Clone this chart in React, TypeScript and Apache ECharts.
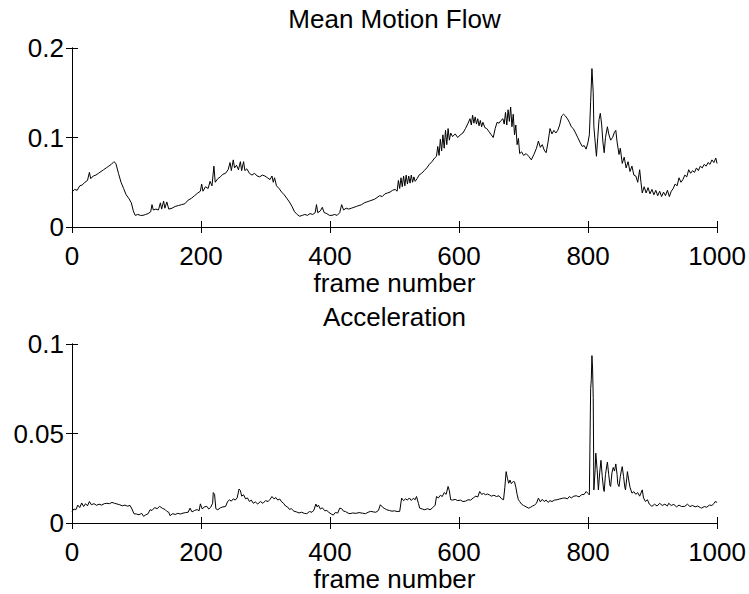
import React, { useEffect, useRef } from "react";
import * as echarts from "echarts";

const motionTitle = "Mean Motion Flow";
const accelTitle = "Acceleration";
const xName = "frame number";
const xTicks = [0, 200, 400, 600, 800, 1000];

const motionFrames = [
  0, 4, 8, 12, 16, 20, 24, 27, 29, 33, 37, 41, 45, 49, 53, 57, 61, 65, 68, 72, 76, 80, 84, 88, 92, 95, 98,
  102, 106, 110, 114, 118, 122, 124, 126, 130, 134, 137, 139, 142, 144, 147, 150, 155, 160, 165, 170, 175,
  180, 185, 190, 195, 199, 201, 203, 207, 211, 214, 217, 220, 222, 226, 230, 234, 238, 242, 245, 247, 250,
  252, 255, 258, 261, 263, 266, 268, 271, 275, 279, 283, 287, 291, 295, 299, 303, 307, 310, 312, 314, 317,
  321, 325, 329, 333, 337, 341, 345, 349, 353, 357, 361, 365, 369, 373, 377, 379, 381, 385, 388, 391, 395,
  399, 403, 407, 411, 415, 418, 421, 425, 429, 433, 437, 441, 445, 449, 453, 457, 461, 465, 469, 473, 477,
  481, 485, 489, 493, 497, 501, 504, 506, 508, 510, 512, 514, 516, 518, 520, 522, 524, 526, 528, 530, 532,
  535, 538, 542, 546, 550, 554, 558, 562, 565, 567, 569, 571, 573, 575, 577, 579, 581, 583, 585, 587, 590,
  594, 598, 602, 606, 610, 614, 617, 619, 621, 623, 625, 627, 629, 631, 633, 635, 637, 640, 643, 646, 650,
  653, 656, 659, 662, 665, 668, 670, 672, 674, 676, 678, 680, 682, 684, 686, 688, 690, 692, 694, 697, 700,
  704, 708, 712, 716, 720, 723, 726, 729, 732, 735, 738, 741, 744, 747, 750, 753, 756, 759, 762, 765, 768,
  771, 774, 777, 780, 784, 788, 791, 794, 797, 800, 802, 804, 806, 808, 809, 811, 813, 815, 817, 819, 821,
  823, 825, 827, 830, 832, 835, 838, 841, 843, 845, 848, 850, 853, 856, 859, 862, 865, 868, 871, 874, 877,
  880, 882, 884, 887, 890, 893, 896, 899, 902, 905, 908, 911, 914, 917, 920, 923, 926, 929, 932, 935, 938,
  941, 944, 947, 950, 953, 956, 959, 962, 965, 968, 971, 974, 977, 980, 983, 986, 989, 992, 995, 998, 1000,
];

const motionValues = [
  0.039, 0.042, 0.041, 0.046, 0.047, 0.05, 0.052, 0.061, 0.054, 0.057, 0.058, 0.06, 0.062, 0.064, 0.066,
  0.068, 0.07, 0.073, 0.071, 0.06, 0.05, 0.043, 0.036, 0.032, 0.027, 0.018, 0.013,
  0.014, 0.013, 0.013, 0.014, 0.015, 0.017, 0.025, 0.019, 0.02, 0.019, 0.027, 0.02, 0.029, 0.021, 0.028,
  0.02, 0.021, 0.023, 0.024, 0.025, 0.026,
  0.03, 0.032, 0.035, 0.038, 0.04, 0.048, 0.04, 0.045, 0.043, 0.051, 0.046, 0.068, 0.05, 0.054, 0.056,
  0.059, 0.06, 0.064, 0.072, 0.063, 0.075,
  0.066, 0.069, 0.064, 0.073, 0.063, 0.073, 0.063, 0.065, 0.06, 0.058, 0.06, 0.057, 0.056, 0.058, 0.057,
  0.055, 0.053, 0.057, 0.05, 0.055, 0.046,
  0.043, 0.039, 0.036, 0.032, 0.028, 0.023, 0.017, 0.014, 0.012, 0.013, 0.014, 0.013, 0.015, 0.014, 0.016,
  0.025, 0.016, 0.018, 0.022, 0.016, 0.015,
  0.013, 0.013, 0.014, 0.013, 0.016, 0.025, 0.019, 0.021, 0.02, 0.021, 0.022, 0.023, 0.024, 0.025, 0.027,
  0.028, 0.029, 0.03, 0.031, 0.033, 0.035,
  0.034, 0.037, 0.038, 0.039, 0.041, 0.042, 0.04, 0.052, 0.043, 0.055, 0.045, 0.057, 0.046, 0.058, 0.048,
  0.057, 0.049, 0.058, 0.05, 0.056, 0.051,
  0.054, 0.058, 0.06, 0.063, 0.066, 0.07, 0.073, 0.077, 0.079, 0.09, 0.08, 0.098, 0.085, 0.103, 0.088,
  0.108, 0.092, 0.11, 0.097, 0.105, 0.101,
  0.104, 0.1, 0.103, 0.105, 0.11, 0.116, 0.121, 0.114, 0.125, 0.116, 0.123, 0.115, 0.121, 0.113, 0.119,
  0.112, 0.117, 0.111, 0.11, 0.107, 0.103,
  0.1, 0.11, 0.117, 0.116, 0.119, 0.121, 0.115, 0.128, 0.114, 0.131, 0.118, 0.134, 0.112, 0.126, 0.103,
  0.114, 0.092, 0.099, 0.082, 0.084, 0.08,
  0.082, 0.079, 0.075, 0.081, 0.088, 0.096, 0.089, 0.092, 0.086, 0.083, 0.095, 0.11, 0.104, 0.108, 0.105,
  0.108, 0.114, 0.124, 0.126, 0.124, 0.121,
  0.117, 0.112, 0.11, 0.106, 0.1, 0.094, 0.09, 0.091, 0.087, 0.095, 0.103, 0.14, 0.177, 0.15, 0.112, 0.095,
  0.079, 0.1, 0.12, 0.127, 0.115,
  0.095, 0.083, 0.1, 0.112, 0.104, 0.097, 0.1, 0.106, 0.108, 0.095, 0.081, 0.088, 0.071, 0.078, 0.066,
  0.073, 0.062, 0.068, 0.058, 0.057, 0.05,
  0.064, 0.05, 0.038, 0.045, 0.038, 0.044, 0.037, 0.042, 0.036, 0.041, 0.035, 0.04, 0.034, 0.039, 0.035,
  0.041, 0.034, 0.04, 0.043, 0.048, 0.046,
  0.055, 0.05, 0.053, 0.058, 0.056, 0.064, 0.06, 0.063, 0.061, 0.066, 0.063, 0.068, 0.066, 0.07, 0.068,
  0.072, 0.07, 0.075, 0.072, 0.077, 0.071,
];

const accelFrames = [
  0, 3, 6, 9, 12, 15, 18, 21, 24, 27, 30, 34, 38, 42, 46, 50, 54, 58, 62, 66, 70, 74, 78, 82, 86, 90, 93, 96,
  100, 104, 108, 111, 114, 118, 121, 124, 128, 132, 136, 140, 144, 147, 150, 152, 156, 160, 164, 168, 172,
  176, 180, 183, 186, 190, 194, 197, 199, 202, 205, 209, 212, 215, 218, 219, 221, 223, 226, 230, 234, 238,
  241, 244, 247, 250, 253, 256, 259, 261, 263, 266, 269, 272, 275, 278, 281, 284, 288, 292, 296, 300, 304,
  307, 310, 313, 316, 319, 322, 325, 328, 331, 334, 337, 340, 344, 348, 352, 356, 360, 364, 368, 372, 375,
  378, 380, 382, 385, 388, 392, 395, 398, 402, 405, 408, 412, 415, 418, 421, 424, 428, 431, 435, 440, 445,
  450, 455, 459, 463, 467, 471, 475, 478, 481, 484, 488, 492, 496, 500, 504, 508, 511, 514, 517, 520, 523,
  526, 529, 532, 534, 537, 539, 543, 547, 551, 555, 559, 563, 565, 568, 571, 574, 577, 580, 583, 585, 587,
  590, 594, 598, 602, 606, 610, 614, 618, 622, 626, 629, 632, 635, 638, 641, 644, 647, 650, 654, 658, 662,
  666, 669, 671, 673, 675, 677, 679, 681, 684, 686, 688, 690, 692, 694, 697, 700, 704, 708, 711, 714, 717,
  720, 723, 726, 729, 732, 735, 738, 741, 744, 748, 752, 756, 760, 764, 768, 771, 774, 778, 782, 786, 790,
  794, 797, 800, 802, 804, 805, 806, 807, 808, 809, 811, 812, 814, 816, 818, 820, 822, 824, 825, 827, 829,
  830, 832, 834, 835, 837, 839, 841, 843, 845, 846, 848, 850, 852, 853, 855, 857, 858, 860, 861, 863, 865,
  868, 871, 874, 877, 880, 884, 886, 889, 892, 895, 899, 903, 907, 911, 915, 919, 923, 925, 929, 933, 937,
  941, 945, 950, 954, 958, 962, 966, 970, 974, 976, 980, 984, 988, 992, 995, 997, 1000,
];

const accelValues = [
  0.0065, 0.0078, 0.0074, 0.01, 0.0086, 0.0112, 0.0092, 0.0108, 0.0096, 0.012, 0.0102, 0.0108, 0.0099,
  0.0105, 0.01, 0.0108, 0.011, 0.0108, 0.0115, 0.011, 0.0106, 0.0102, 0.0096, 0.01, 0.0094, 0.0098, 0.0078,
  0.0052,
  0.005, 0.0046, 0.0054, 0.0037, 0.0045, 0.0052, 0.0074, 0.007, 0.0086, 0.008, 0.0093, 0.0082, 0.0076,
  0.0065, 0.006, 0.0041, 0.0052, 0.0048, 0.0054, 0.005, 0.0055,
  0.0058, 0.006, 0.0083, 0.0062, 0.007, 0.0075, 0.0068, 0.0107, 0.0078, 0.009, 0.0093, 0.0078, 0.0088,
  0.011, 0.017, 0.016, 0.008, 0.0074, 0.0085, 0.009, 0.0092,
  0.0118, 0.013, 0.0122, 0.0135, 0.0128, 0.014, 0.019, 0.0182, 0.015, 0.0158, 0.0135, 0.014, 0.012, 0.0128,
  0.011, 0.0118, 0.0106, 0.012, 0.011, 0.0125, 0.012,
  0.0132, 0.0148, 0.0135, 0.0142, 0.0128, 0.0134, 0.0118, 0.011, 0.0095, 0.009, 0.0076, 0.008, 0.0066,
  0.0062, 0.0056, 0.006, 0.0054, 0.0052, 0.0064, 0.006, 0.0072,
  0.0106, 0.009, 0.01, 0.0078, 0.0085, 0.0068, 0.007, 0.006, 0.005, 0.0044, 0.0058, 0.0056, 0.0083, 0.008,
  0.0066, 0.0064, 0.0055, 0.0052, 0.0056, 0.0054, 0.0058,
  0.0055, 0.0052, 0.006, 0.0065, 0.0062, 0.006, 0.007, 0.0102, 0.009, 0.0082, 0.0074, 0.007, 0.0066,
  0.0068, 0.0064, 0.0065, 0.0139, 0.0125, 0.0135, 0.0128, 0.014,
  0.0126, 0.0138, 0.013, 0.0148, 0.011, 0.0083, 0.0078, 0.0074, 0.008, 0.0074, 0.0085, 0.01, 0.0148, 0.014,
  0.0155, 0.0148, 0.017, 0.016, 0.0204, 0.018, 0.013,
  0.0128, 0.0132, 0.0125, 0.0128, 0.012, 0.0122, 0.013, 0.0128, 0.014, 0.015, 0.0145, 0.0176, 0.016,
  0.0165, 0.0158, 0.0162, 0.0157, 0.015, 0.0155, 0.0148, 0.0152,
  0.0135, 0.013, 0.02, 0.0287, 0.025, 0.0222, 0.024, 0.022, 0.0232, 0.023, 0.02, 0.016, 0.013, 0.012,
  0.0105, 0.0098, 0.009, 0.0083, 0.0088, 0.0095, 0.01,
  0.011, 0.0139, 0.0118, 0.0132, 0.012, 0.0128, 0.0115, 0.0125, 0.012, 0.0128, 0.013, 0.0134, 0.0138,
  0.014, 0.0135, 0.0148, 0.014, 0.015, 0.0152, 0.0146, 0.0158,
  0.016, 0.0176, 0.0165, 0.0157, 0.075, 0.08, 0.0935, 0.086, 0.07, 0.0185, 0.03, 0.039, 0.03, 0.0185,
  0.028, 0.035, 0.026, 0.019, 0.0176, 0.027, 0.032,
  0.034, 0.027, 0.021, 0.0204, 0.028, 0.031, 0.029, 0.033, 0.027, 0.022, 0.0204, 0.026, 0.03, 0.0315,
  0.026, 0.02, 0.0185, 0.025, 0.0287, 0.024, 0.02,
  0.0167, 0.0175, 0.016, 0.017, 0.015, 0.0185, 0.014, 0.012, 0.013, 0.0105, 0.0093, 0.0105, 0.0095, 0.011,
  0.0098, 0.0105, 0.0095, 0.011, 0.0098, 0.0104, 0.009,
  0.01, 0.0092, 0.0093, 0.0105, 0.0092, 0.0098, 0.009, 0.0095, 0.0086, 0.0083, 0.0092, 0.0088, 0.01,
  0.0098, 0.0108, 0.012, 0.0115,
];

const FONT = "'Liberation Sans', Arial, Helvetica, sans-serif";

function zip(xs: number[], ys: number[]) {
  return xs.map((x, i) => [x, ys[i]]);
}

export default function App() {
  const ref = useRef<HTMLDivElement>(null);

  useEffect(() => {
    if (!ref.current) return;
    const chart = echarts.init(ref.current, undefined, { renderer: "svg" });

    const line = { show: true, lineStyle: { color: "#000", width: 1 } };
    // negative length draws the tick towards the plot area
    const tick = { show: true, inside: false, length: -6, lineStyle: { color: "#000", width: 1 } };
    const label = { color: "#000", fontSize: 26, fontFamily: FONT };
    const plain = (v: number) => String(v);

    const xBottom = (gridIndex: number) => ({
      type: "value" as const,
      gridIndex,
      position: "bottom" as const,
      min: xTicks[0],
      max: xTicks[xTicks.length - 1],
      interval: 200,
      axisLine: line,
      axisTick: tick,
      splitLine: { show: false },
      axisLabel: { ...label, margin: 16, formatter: plain },
      name: xName,
      nameLocation: "middle" as const,
      nameGap: 43,
      nameTextStyle: { ...label },
    });
    const xTop = (gridIndex: number, title: string, gap: number) => ({
      type: "value" as const,
      gridIndex,
      position: "top" as const,
      min: xTicks[0],
      max: xTicks[xTicks.length - 1],
      interval: 200,
      axisLine: line,
      axisTick: tick,
      splitLine: { show: false },
      axisLabel: { show: false },
      name: title,
      nameLocation: "middle" as const,
      nameGap: gap,
      nameTextStyle: { ...label },
    });
    const yLeft = (gridIndex: number, max: number, interval: number) => ({
      type: "value" as const,
      gridIndex,
      position: "left" as const,
      min: 0,
      max,
      interval,
      axisLine: line,
      axisTick: tick,
      splitLine: { show: false },
      axisLabel: { ...label, margin: 8, formatter: plain },
    });
    const yRight = (gridIndex: number, max: number, interval: number) => ({
      type: "value" as const,
      gridIndex,
      position: "right" as const,
      min: 0,
      max,
      interval,
      axisLine: line,
      axisTick: tick,
      splitLine: { show: false },
      axisLabel: { show: false },
    });

    chart.setOption({
      animation: false,
      backgroundColor: "#fff",
      grid: [
        { left: 72, top: 48, width: 646, height: 179 },
        { left: 72, top: 344, width: 646, height: 179 },
      ],
      xAxis: [xBottom(0), xTop(0, motionTitle, 16), xBottom(1), xTop(1, accelTitle, 14)],
      yAxis: [yLeft(0, 0.2, 0.1), yRight(0, 0.2, 0.1), yLeft(1, 0.1, 0.05), yRight(1, 0.1, 0.05)],
      series: [
        {
          type: "line",
          name: motionTitle,
          xAxisIndex: 0,
          yAxisIndex: 0,
          data: zip(motionFrames, motionValues),
          showSymbol: false,
          symbol: "none",
          lineStyle: { color: "#000", width: 1 },
        },
        {
          type: "line",
          name: accelTitle,
          xAxisIndex: 2,
          yAxisIndex: 2,
          data: zip(accelFrames, accelValues),
          showSymbol: false,
          symbol: "none",
          lineStyle: { color: "#000", width: 1 },
        },
      ],
    });

    return () => chart.dispose();
  }, []);

  return (
    <div
      ref={ref}
      style={{ position: "fixed", left: 0, top: 0, width: 749, height: 594, background: "#fff" }}
    />
  );
}
